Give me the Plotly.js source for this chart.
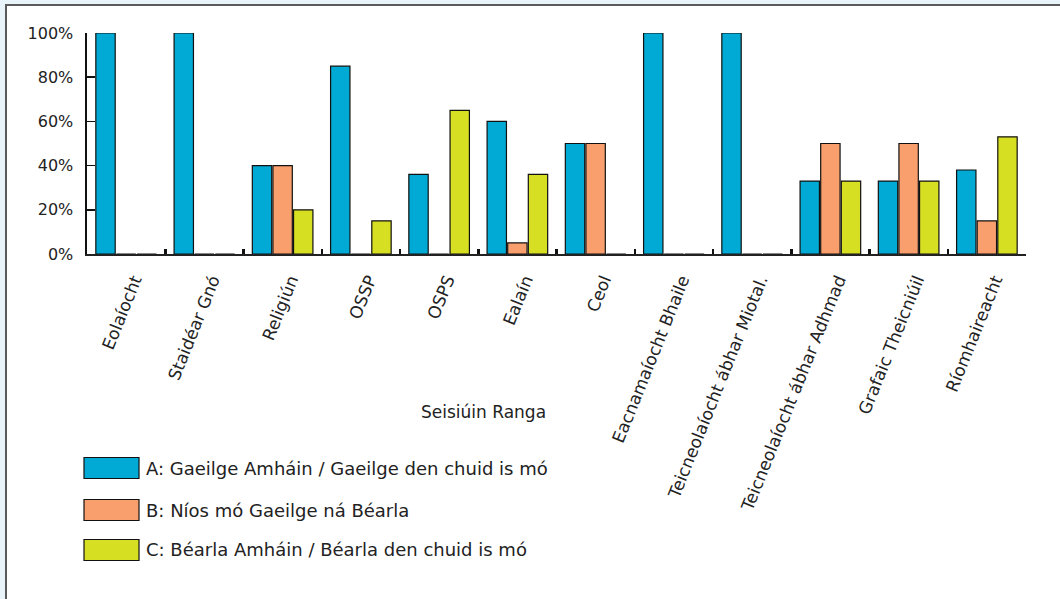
<!DOCTYPE html>
<html>
<head>
<meta charset="utf-8">
<script src="https://cdn.plot.ly/plotly-3.0.1.min.js"></script>
<style>
  html, body { margin: 0; padding: 0; background: #e8f4fa; width: 1060px; height: 599px; overflow: hidden; }
  #panel { position: absolute; left: 5px; top: 4px; width: 1100px; height: 700px; background: #ffffff; border-left: 2px solid #5a5a5a; border-top: 2px solid #5a5a5a; }
  #chart { position: absolute; left: 0; top: 0; width: 1060px; height: 599px; }
</style>
</head>
<body>
<div id="panel"></div>
<div id="chart"></div>
<script>
// ---- data ----
const categories = [
  "Eolaíocht", "Staidéar Gnó", "Religiún", "OSSP", "OSPS", "Ealaín", "Ceol",
  "Eacnamaíocht Bhaile", "Teicneolaíocht ábhar Miotal.", "Teicneolaíocht ábhar Adhmad",
  "Grafaic Theicniúil", "Ríomhaireacht"
];
const seriesNames = [
  "A: Gaeilge Amháin / Gaeilge den chuid is mó",
  "B: Níos mó Gaeilge ná Béarla",
  "C: Béarla Amháin / Béarla den chuid is mó"
];
const valuesA = [100, 100, 40, 85, 36, 60, 50, 100, 100, 33, 33, 38];
const valuesB = [0, 0, 40, 0, 0, 5, 50, 0, 0, 50, 50, 15];
const valuesC = [0, 0, 20, 15, 65, 36, 0, 0, 0, 33, 33, 53];
const yTickValues = [0, 20, 40, 60, 80, 100];
const yTickLabels = ["0%", "20%", "40%", "60%", "80%", "100%"];
const xAxisTitle = "Seisiúin Ranga";

// ---- styling ----
const colors = ["#00aad4", "#f89f6d", "#d6df22"];
const FONT = "DejaVu Sans, sans-serif";
const TEXT = "#222222";

const allValues = [valuesA, valuesB, valuesC];
const traces = allValues.map((vals, i) => ({
  type: "bar",
  x: categories,
  y: vals,
  name: seriesNames[i],
  marker: { color: colors[i], line: { color: "#111111", width: 1.2 } },
  hoverinfo: "x+y"
}));

// plot area in pixels (for placing legend / title annotations)
const L = 87, R = 34, T = 33, B = 345, W = 1060, H = 599;
const pw = W - L - R, ph = H - T - B;
const px = v => (v - L) / pw;
const py = v => (H - B - v) / ph;

const shapes = [];
const annotations = [];
const legendRows = [468, 510, 550];
seriesNames.forEach((nm, i) => {
  shapes.push({
    type: "rect", xref: "paper", yref: "paper",
    x0: px(84), x1: px(139), y0: py(legendRows[i] - 10.5), y1: py(legendRows[i] + 10.5),
    fillcolor: colors[i], line: { color: "#111111", width: 1.2 }
  });
  annotations.push({
    xref: "paper", yref: "paper", x: px(144), y: py(legendRows[i]),
    xanchor: "left", yanchor: "middle", showarrow: false,
    text: nm, font: { family: FONT, size: 18, color: TEXT }
  });
});
annotations.push({
  xref: "paper", yref: "paper", x: px(483), y: py(412),
  xanchor: "center", yanchor: "middle", showarrow: false,
  text: xAxisTitle, font: { family: FONT, size: 17, color: TEXT }
});

const layout = {
  width: W, height: H,
  margin: { l: L, r: R, t: T, b: B, pad: 0 },
  paper_bgcolor: "rgba(0,0,0,0)",
  plot_bgcolor: "rgba(0,0,0,0)",
  barmode: "group",
  bargap: 0.21,
  bargroupgap: 0.06,
  showlegend: false,
  font: { family: FONT, size: 17, color: TEXT },
  xaxis: {
    type: "category",
    range: [-0.5, categories.length - 0.5],
    tickangle: -68,
    tickson: "boundaries",
    ticks: "inside", ticklen: 5, tickwidth: 2.5, tickcolor: "#111111",
    ticklabelstandoff: 8,
    ticklabelshift: 8,
    showline: true, linecolor: "#222222", linewidth: 1.5,
    showgrid: false, zeroline: false,
    tickfont: { family: FONT, size: 17, color: TEXT }
  },
  yaxis: {
    range: [0, 100],
    tickmode: "array",
    tickvals: yTickValues,
    ticktext: yTickLabels,
    ticks: "inside", ticklen: 8, tickwidth: 1.5, tickcolor: "#111111",
    ticklabelstandoff: 8,
    showline: true, linecolor: "#111111", linewidth: 2.5,
    showgrid: false, zeroline: false,
    tickfont: { family: FONT, size: 16, color: TEXT }
  },
  shapes: shapes,
  annotations: annotations
};

Plotly.newPlot("chart", traces, layout, { staticPlot: true, displayModeBar: false });
</script>
</body>
</html>
